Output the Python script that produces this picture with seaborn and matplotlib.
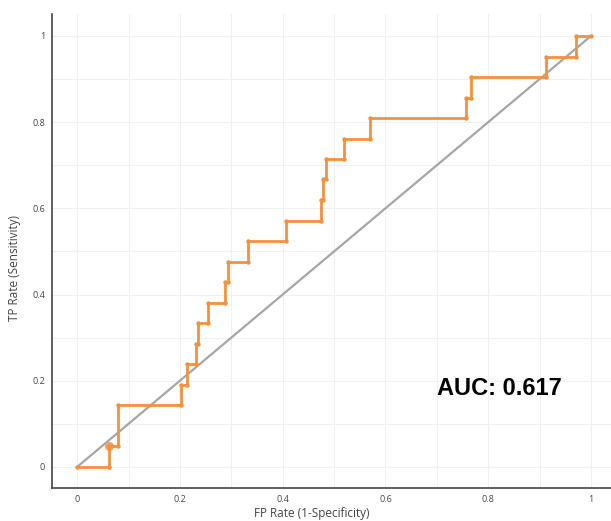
import matplotlib
matplotlib.use("Agg")
import matplotlib.pyplot as plt
import seaborn as sns
import numpy as np
import pandas as pd

# ROC step vertices (FPR, TPR)
fpr = [0, 0.062, 0.062, 0.079, 0.079, 0.203, 0.203, 0.213, 0.213, 0.231, 0.231,
       0.236, 0.236, 0.254, 0.254, 0.288, 0.288, 0.293, 0.293, 0.333, 0.333,
       0.407, 0.407, 0.474, 0.474, 0.478, 0.478, 0.484, 0.484, 0.519, 0.519,
       0.570, 0.570, 0.756, 0.756, 0.767, 0.767, 0.913, 0.913, 0.970, 0.970, 1.0]
tpr = [0, 0, 0.048, 0.048, 0.143, 0.143, 0.190, 0.190, 0.238, 0.238, 0.286,
       0.286, 0.333, 0.333, 0.381, 0.381, 0.429, 0.429, 0.476, 0.476, 0.524,
       0.524, 0.571, 0.571, 0.619, 0.619, 0.667, 0.667, 0.714, 0.714, 0.762,
       0.762, 0.810, 0.810, 0.857, 0.857, 0.905, 0.905, 0.952, 0.952, 1.0, 1.0]
diag_x = [0, 1]
diag_y = [0, 1]
best_point = (0.062, 0.048)
auc_text = "AUC: 0.617"
x_ticks = [0, 0.2, 0.4, 0.6, 0.8, 1]
y_ticks = [0, 0.2, 0.4, 0.6, 0.8, 1]
x_tick_labels = ["0", "0.2", "0.4", "0.6", "0.8", "1"]
y_tick_labels = ["0", "0.2", "0.4", "0.6", "0.8", "1"]

sns.set_theme(style="white")
plt.rcParams['font.family'] = ['Open Sans', 'DejaVu Sans']

W, H = 611, 521
fig = plt.figure(figsize=(W / 100, H / 100), dpi=100)
ax = fig.add_axes([52 / W, 1 - 488 / H, 1 - 52 / W, (488 - 14) / H])

orange = "#F5913E"
df = pd.DataFrame({"fpr": fpr, "tpr": tpr})
ddf = pd.DataFrame({"x": diag_x, "y": diag_y})

sns.lineplot(data=ddf, x="x", y="y", color="#a6a6a6", linewidth=1.6, ax=ax,
             sort=False, estimator=None, zorder=2)
sns.lineplot(data=df, x="fpr", y="tpr", color=orange, linewidth=2.0, ax=ax,
             sort=False, estimator=None, marker="o", markersize=3.2,
             markeredgewidth=0, zorder=3)
ax.plot([best_point[0]], [best_point[1]], marker="o", markersize=6.5,
        color=orange, alpha=0.85, markeredgewidth=0, zorder=4)

ax.set_xlim(-0.049, 1.039)
ax.set_ylim(-0.049, 1.051)
ax.set_xticks(x_ticks)
ax.set_xticklabels(x_tick_labels)
ax.set_yticks(y_ticks)
ax.set_yticklabels(y_tick_labels)
ax.set_xticks(np.arange(0.1, 1.01, 0.2), minor=True)
ax.set_yticks(np.arange(0.1, 1.01, 0.2), minor=True)
ax.grid(True, which="both", color="#f0f0f0", linewidth=0.8)
ax.set_axisbelow(True)
ax.tick_params(axis="both", which="both", length=0, labelsize=6.5,
               labelcolor="#444444")
ax.tick_params(axis="x", pad=5)
ax.tick_params(axis="y", pad=5)

for s in ["top", "right"]:
    ax.spines[s].set_visible(False)
for s in ["left", "bottom"]:
    ax.spines[s].set_color("#444444")
    ax.spines[s].set_linewidth(1.2)

ax.set_xlabel("")
ax.set_ylabel("")
fig.text(312 / W, 1 - 513 / H, "FP Rate (1-Specificity)", fontsize=8.5,
         color="#444444", ha="center", va="center")
fig.text(15 / W, 1 - 268 / H, "TP Rate (Sensitivity)", fontsize=8.5,
         color="#444444", ha="center", va="center", rotation=90)

ax.text(0.821, 0.183, auc_text, fontsize=17, fontweight="bold",
        family=["Liberation Sans", "DejaVu Sans"], color="black",
        ha="center", va="center")

fig.savefig("out.png", dpi=100)
